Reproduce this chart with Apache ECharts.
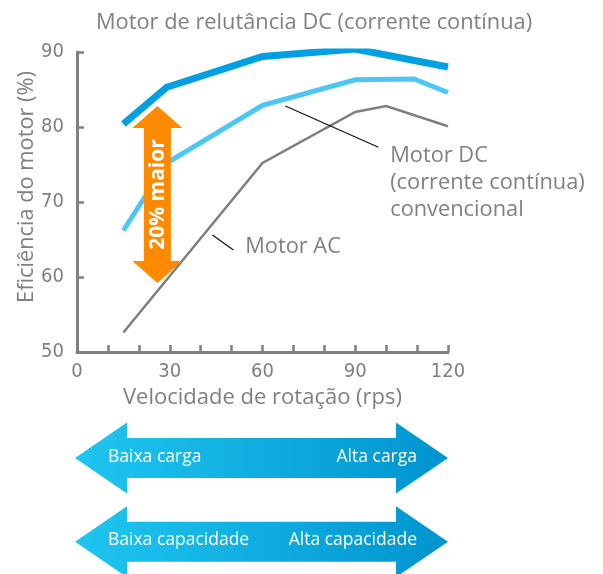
<!DOCTYPE html>
<html>
<head>
<meta charset="utf-8">
<script src="https://cdn.jsdelivr.net/npm/echarts@6/dist/echarts.min.js"></script>
<style>
  html, body { margin: 0; padding: 0; background: #ffffff; }
  #chart { width: 603px; height: 574px; }
</style>
</head>
<body>
<div id="chart"></div>
<script>
// Efficiency (%) against rotation speed (rps) for three motor types
const reluctanceSpeed = [15, 29, 60, 90, 120];
const reluctanceEff   = [80.4, 85.3, 89.4, 90.4, 88.0];

const conventionalSpeed = [15, 29, 60, 90, 109, 120];
const conventionalEff   = [66.2, 75.2, 82.9, 86.3, 86.4, 84.6];

const acSpeed = [15, 60, 90, 100, 120];
const acEff   = [52.6, 75.2, 82.0, 82.8, 80.1];

// Efficiency gain marker: speed, lower and upper efficiency
const gainSpeed = [26];
const gainFrom  = [59.2];
const gainTo    = [82.8];
const gainText  = '20% maior';

const xTicks = [0, 30, 60, 90, 120];
const yTicks = [50, 60, 70, 80, 90];

const GREY = '#808080';
const FONT = '"Open Sans", "Noto Sans", sans-serif';
const NARROW = '"DejaVu Sans Condensed", "Roboto", sans-serif';

const pairs = (xs, ys) => xs.map((x, i) => [x, ys[i]]);

// Leader lines and captions, placed in axis units
const callouts = [
  { line: [[67.4, 82.8], [97.5, 77.3]], at: [101.3, 72.5],
    text: 'Motor DC\n(corrente contínua)\nconvencional' },
  { line: [[43.8, 65.6], [50.6, 63.6]], at: [54.4, 64.0], text: 'Motor AC' }
];

const chart = echarts.init(document.getElementById('chart'), null, { renderer: 'canvas' });

function wideArrow(x0, x1, cy) {
  const sh = 20, hh = 35.5, hl = 52;
  return {
    type: 'polygon',
    shape: { points: [
      [x0, cy], [x0 + hl, cy - hh], [x0 + hl, cy - sh], [x1 - hl, cy - sh],
      [x1 - hl, cy - hh], [x1, cy], [x1 - hl, cy + hh], [x1 - hl, cy + sh],
      [x0 + hl, cy + sh], [x0 + hl, cy + hh]
    ] },
    style: {
      fill: new echarts.graphic.LinearGradient(0, 0, 1, 0, [
        { offset: 0, color: '#1fc6f0' },
        { offset: 1, color: '#0094cf' }
      ])
    }
  };
}

function arrowText(text, x, y, align) {
  return {
    type: 'text', x: x, y: y,
    style: { text: text, fill: '#ffffff', font: '17.5px ' + FONT, align: align, verticalAlign: 'middle' }
  };
}

const tickLabel = {
  color: GREY, fontSize: 20, fontWeight: '300 condensed', fontFamily: NARROW
};

chart.setOption({
  animation: false,
  title: {
    text: 'Motor de relutância DC (corrente contínua)',
    left: 91, top: 7,
    textStyle: { color: GREY, fontSize: 21.8, fontWeight: 'normal', fontFamily: FONT }
  },
  grid: { left: 77, right: 155, top: 52, bottom: 222, containLabel: false },
  xAxis: {
    type: 'value', min: 0, max: 120, interval: 10,
    name: 'Velocidade de rotação (rps)', nameLocation: 'middle', nameGap: 32,
    nameTextStyle: { color: GREY, fontSize: 22, fontFamily: FONT },
    axisLine: { show: true, lineStyle: { color: GREY, width: 3 } },
    axisTick: { show: true, inside: true, length: 7, lineStyle: { color: GREY, width: 2.5 } },
    axisLabel: Object.assign({}, tickLabel, {
      margin: 10,
      formatter: v => (xTicks.indexOf(v) >= 0 ? String(v) : '')
    }),
    splitLine: { show: false }
  },
  yAxis: {
    type: 'value', min: 50, max: 90, interval: 10,
    axisLine: { show: true, lineStyle: { color: GREY, width: 3 } },
    axisTick: { show: true, inside: true, length: 7, lineStyle: { color: GREY, width: 2.5 } },
    axisLabel: Object.assign({}, tickLabel, {
      margin: 13,
      formatter: v => (yTicks.indexOf(v) >= 0 ? String(v) : '')
    }),
    splitLine: { show: false }
  },
  series: [
    {
      name: 'Motor AC', type: 'line', data: pairs(acSpeed, acEff),
      symbol: 'none', z: 2,
      lineStyle: { color: '#7f7f7f', width: 2.5, join: 'miter', cap: 'butt' }
    },
    {
      name: 'Motor DC convencional', type: 'line', data: pairs(conventionalSpeed, conventionalEff),
      symbol: 'none', z: 3,
      lineStyle: { color: '#4cc7f3', width: 5, join: 'miter', cap: 'butt' }
    },
    {
      name: 'Motor de relutância DC', type: 'line', data: pairs(reluctanceSpeed, reluctanceEff),
      symbol: 'none', z: 4,
      lineStyle: { color: '#00a0e2', width: 7, join: 'miter', cap: 'butt' }
    },
    {
      name: 'Ganho', type: 'custom', z: 5,
      data: gainSpeed.map((s, i) => [s, gainFrom[i], gainTo[i]]),
      encode: { x: 0, y: [1, 2] },
      renderItem: function (params, api) {
        const bottom = api.coord([api.value(0), api.value(1)]);
        const top = api.coord([api.value(0), api.value(2)]);
        const cx = top[0], ty = top[1], by = bottom[1];
        const sw = 13.5, hw = 25, hl = 22;
        return {
          type: 'group',
          children: [
            {
              type: 'polygon',
              shape: { points: [
                [cx, ty], [cx + hw, ty + hl], [cx + sw, ty + hl], [cx + sw, by - hl],
                [cx + hw, by - hl], [cx, by], [cx - hw, by - hl], [cx - sw, by - hl],
                [cx - sw, ty + hl], [cx - hw, ty + hl]
              ] },
              style: { fill: '#ff8a00' }
            },
            {
              type: 'text', x: cx + 1, y: (ty + by) / 2, rotation: Math.PI / 2,
              style: {
                text: gainText, fill: '#ffffff', font: 'bold 21px ' + FONT,
                align: 'center', verticalAlign: 'middle'
              }
            }
          ]
        };
      }
    },
    {
      name: 'Legendas', type: 'custom', z: 6,
      data: callouts.map((c, i) => [c.at[0], c.at[1], i]),
      encode: { x: 0, y: 1 },
      renderItem: function (params, api) {
        const c = callouts[params.dataIndex];
        const p1 = api.coord(c.line[0]);
        const p2 = api.coord(c.line[1]);
        const t = api.coord(c.at);
        return {
          type: 'group',
          children: [
            {
              type: 'line',
              shape: { x1: p1[0], y1: p1[1], x2: p2[0], y2: p2[1] },
              style: { stroke: '#111111', lineWidth: 1.2 }
            },
            {
              type: 'text', x: t[0], y: t[1],
              style: {
                text: c.text, fill: GREY, font: '21.8px ' + FONT, lineHeight: 27,
                align: 'left', verticalAlign: 'middle'
              }
            }
          ]
        };
      }
    }
  ],
  graphic: [
    {
      type: 'text', x: 27, y: 187, rotation: Math.PI / 2,
      style: {
        text: 'Eficiência do motor (%)', fill: GREY, font: '21.8px ' + FONT,
        align: 'center', verticalAlign: 'middle'
      }
    },
    wideArrow(75, 448, 458),
    arrowText('Baixa carga', 108, 457, 'left'),
    arrowText('Alta carga', 417, 457, 'right'),
    wideArrow(75, 448, 541.7),
    arrowText('Baixa capacidade', 108, 540.5, 'left'),
    arrowText('Alta capacidade', 417, 540.5, 'right')
  ]
});
</script>
</body>
</html>
